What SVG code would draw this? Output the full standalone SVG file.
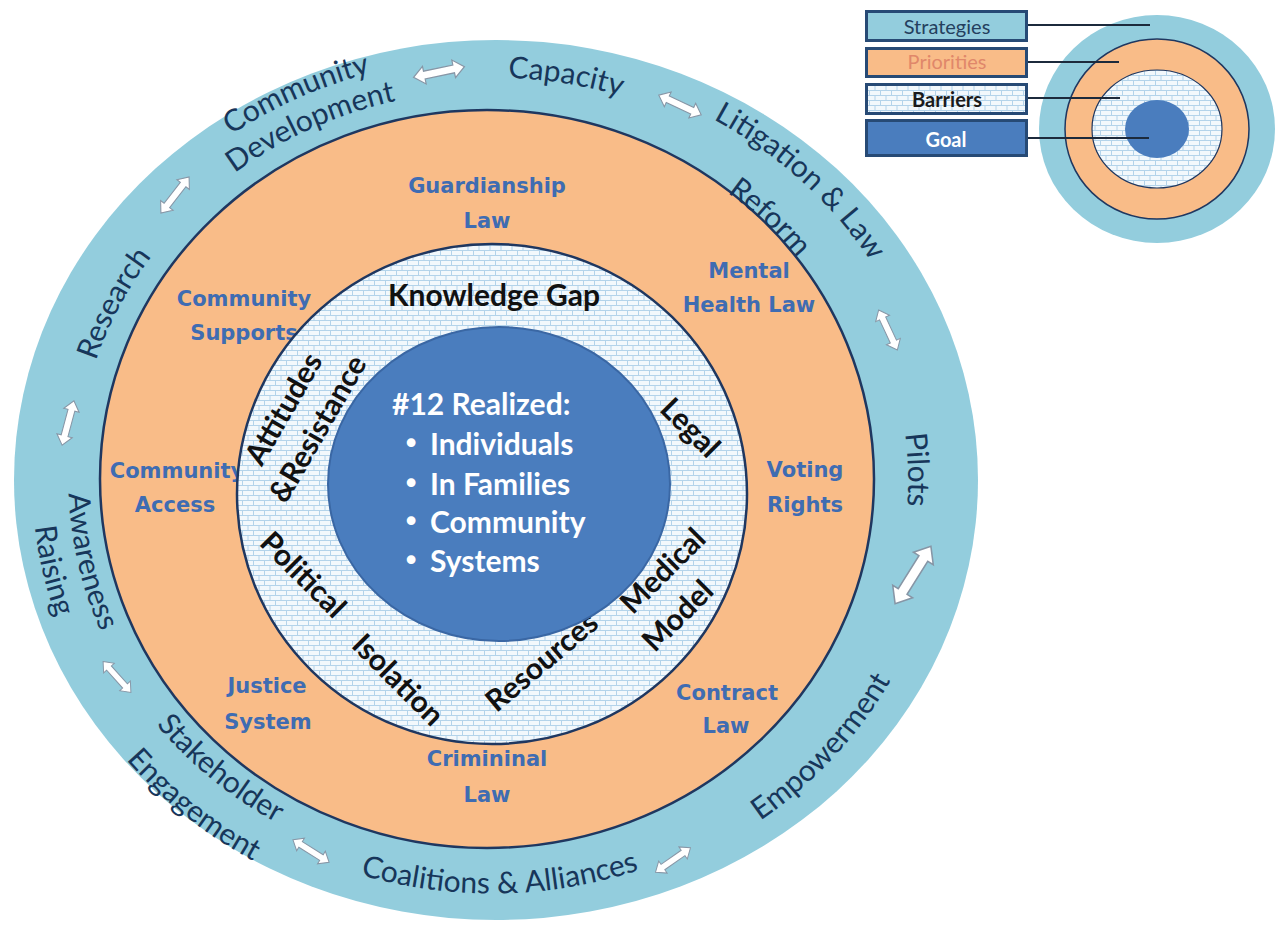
<svg xmlns="http://www.w3.org/2000/svg" xmlns:xlink="http://www.w3.org/1999/xlink" width="1281" height="926" viewBox="0 0 1281 926">
<defs>
<pattern id="brick" width="11" height="10" patternUnits="userSpaceOnUse">
<rect width="11" height="10" fill="#f2f8fc"/>
<path d="M0,0.5H11M0,5.5H11M0.5,0.5V5.5M6,5.5V10.5" stroke="#b3d3ea" stroke-width="1" fill="none"/>
</pattern>
<path id="arr" d="M-26,0 L-15,-9 L-15,-4 L15,-4 L15,-9 L26,0 L15,9 L15,4 L-15,4 L-15,9 Z"/>
<path id="pCap" d="M61,480 A431,402.2 0 1 1 923,480 A431,402.2 0 1 1 61,480"/>
<path id="pMid" d="M75.8,480 A416.2,388.4 0 1 1 908.2,480 A416.2,388.4 0 1 1 75.8,480"/>
<path id="pCom" d="M39.5,480 A452.5,422.3 0 1 1 944.5,480 A452.5,422.3 0 1 1 39.5,480"/>
<path id="pDev" d="M74.5,480 A417.5,389.6 0 1 1 909.5,480 A417.5,389.6 0 1 1 74.5,480"/>
<path id="pLit" d="M46.7,480 A445.3,415.5 0 1 1 937.3,480 A445.3,415.5 0 1 1 46.7,480"/>
<path id="pRef" d="M104.5,480 A387.5,361.6 0 1 1 879.5,480 A387.5,361.6 0 1 1 104.5,480"/>
<path id="pCoa" d="M492,66.5 A443.1,413.5 0 0 0 492,893.5 A443.1,413.5 0 0 0 492,66.5"/>
<path id="pEmp" d="M492,57.2 A453.1,422.8 0 0 0 492,902.8 A453.1,422.8 0 0 0 492,57.2"/>
<path id="pSta" d="M492,82.5 A426,397.5 0 0 0 492,877.5 A426,397.5 0 0 0 492,82.5"/>
<path id="pEng" d="M492,38.6 A473,441.4 0 0 0 492,921.4 A473,441.4 0 0 0 492,38.6"/>
<path id="pAwa" d="M492,84.7 A423.6,395.3 0 0 0 492,875.3 A423.6,395.3 0 0 0 492,84.7"/>
<path id="pRai" d="M492,50.7 A460,429.3 0 0 0 492,909.3 A460,429.3 0 0 0 492,50.7"/>
</defs>
<style>
.outer{font-family:Lato,"Liberation Sans",sans-serif;font-size:30px;fill:#17365a;text-anchor:middle}
.prio{font-family:"DejaVu Sans",Verdana,sans-serif;font-weight:bold;font-size:21px;fill:#3f6cb2;text-anchor:middle}
.bar{font-family:Lato,"Liberation Sans",sans-serif;font-weight:bold;font-size:30px;fill:#111;text-anchor:middle}
.goal{font-family:Lato,"Liberation Sans",sans-serif;font-weight:bold;font-size:30px;fill:#fff}
.bul{font-family:"DejaVu Sans",sans-serif;font-size:30px;fill:#fff;text-anchor:middle}
.arrow{fill:#fff;stroke:#8796a6;stroke-width:1.2}
.leg{font-family:Lato,"Liberation Sans",sans-serif;font-size:20px;text-anchor:middle}
.legbox{stroke:#274a75;stroke-width:3}
.legline{stroke:#1c2a3c;stroke-width:2}
</style>
<rect width="1281" height="926" fill="#fff"/>

<g id="strategies-ring">
<ellipse cx="496" cy="480" rx="482" ry="440" fill="#93cddd"/>
</g>
<g id="priorities-ring">
<ellipse cx="487" cy="479" rx="387" ry="369" fill="#f9bc88" stroke="#1f3760" stroke-width="2.5"/>
</g>

<g id="strategy-labels">
<g id="s-community-development">
<text class="outer"><textPath xlink:href="#pCom" href="#pCom" startOffset="17.75%">Community</textPath></text>
<text class="outer"><textPath xlink:href="#pDev" href="#pDev" startOffset="17.67%">Development</textPath></text>
</g>
<g id="s-capacity"><text class="outer"><textPath xlink:href="#pCap" href="#pCap" startOffset="27.8%">Capacity</textPath></text></g>
<g id="s-litigation">
<text class="outer"><textPath xlink:href="#pLit" href="#pLit" startOffset="37.47%">Litigation &amp; Law</textPath></text>
<text class="outer"><textPath xlink:href="#pRef" href="#pRef" startOffset="37.69%">Reform</textPath></text>
</g>
<g id="s-pilots"><text class="outer"><textPath xlink:href="#pMid" href="#pMid" startOffset="49.6%">Pilots</textPath></text></g>
<g id="s-research"><text class="outer"><textPath xlink:href="#pMid" href="#pMid" startOffset="7.15%">Research</textPath></text></g>
<g id="s-empowerment"><text class="outer"><textPath xlink:href="#pEmp" href="#pEmp" startOffset="63.86%">Empowerment</textPath></text></g>
<g id="s-coalitions"><text class="outer"><textPath xlink:href="#pCoa" href="#pCoa" startOffset="50.3%">Coalitions &amp; Alliances</textPath></text></g>
<g id="s-stakeholder">
<text class="outer"><textPath xlink:href="#pSta" href="#pSta" startOffset="38.3%">Stakeholder</textPath></text>
<text class="outer"><textPath xlink:href="#pEng" href="#pEng" startOffset="38.5%">Engagement</textPath></text>
</g>
<g id="s-awareness">
<text class="outer"><textPath xlink:href="#pAwa" href="#pAwa" startOffset="28.3%">Awareness</textPath></text>
<text class="outer"><textPath xlink:href="#pRai" href="#pRai" startOffset="28.35%">Raising</textPath></text>
</g>
</g>

<g id="connectors">
<use xlink:href="#arr" href="#arr" class="arrow" transform="translate(439,72) rotate(-12)"/>
<use xlink:href="#arr" href="#arr" class="arrow" transform="translate(680,105) rotate(25) scale(0.9)"/>
<use xlink:href="#arr" href="#arr" class="arrow" transform="translate(888,330) rotate(65) scale(0.85)"/>
<use xlink:href="#arr" href="#arr" class="arrow" transform="translate(913,575) rotate(-58) scale(1.3)"/>
<use xlink:href="#arr" href="#arr" class="arrow" transform="translate(673,860) rotate(-35) scale(0.82)"/>
<use xlink:href="#arr" href="#arr" class="arrow" transform="translate(311,851) rotate(32) scale(0.82)"/>
<use xlink:href="#arr" href="#arr" class="arrow" transform="translate(117,677) rotate(48) scale(0.8)"/>
<use xlink:href="#arr" href="#arr" class="arrow" transform="translate(68,423) rotate(-75) scale(0.88)"/>
<use xlink:href="#arr" href="#arr" class="arrow" transform="translate(175,195) rotate(-52) scale(0.88)"/>
</g>

<g id="priority-labels">
<g id="p-guardianship"><text class="prio" x="487" y="193">Guardianship</text><text class="prio" x="487" y="228">Law</text></g>
<g id="p-mental"><text class="prio" x="749" y="278">Mental</text><text class="prio" x="749" y="312">Health Law</text></g>
<g id="p-supports"><text class="prio" x="244" y="306">Community</text><text class="prio" x="244" y="340">Supports</text></g>
<g id="p-access"><text class="prio" x="177" y="478">Community</text><text class="prio" x="175" y="512">Access</text></g>
<g id="p-voting"><text class="prio" x="805" y="477">Voting</text><text class="prio" x="805" y="512">Rights</text></g>
<g id="p-justice"><text class="prio" x="267" y="693">Justice</text><text class="prio" x="268" y="729">System</text></g>
<g id="p-criminal"><text class="prio" x="487" y="766">Crimininal</text><text class="prio" x="487" y="802">Law</text></g>
<g id="p-contract"><text class="prio" x="727" y="700">Contract</text><text class="prio" x="726" y="733">Law</text></g>
</g>

<g id="barriers-ring">
<ellipse cx="492" cy="494" rx="255" ry="250" fill="url(#brick)" stroke="#1f3760" stroke-width="2.5"/>
</g>

<g id="barrier-labels">
<g id="b-knowledge"><text class="bar" x="494" y="306">Knowledge Gap</text></g>
<g id="b-attitudes">
<text class="bar" transform="translate(284,409) rotate(-60)" y="10">Attitudes</text>
<text class="bar" transform="translate(318,429) rotate(-60)" y="10">&amp;Resistance</text>
</g>
<g id="b-legal"><text class="bar" transform="translate(690,428) rotate(45)" y="10">Legal</text></g>
<g id="b-political"><text class="bar" transform="translate(303,575) rotate(45)" y="10">Political</text></g>
<g id="b-isolation"><text class="bar" transform="translate(398,680) rotate(45)" y="10">Isolation</text></g>
<g id="b-resources"><text class="bar" transform="translate(542,662) rotate(-40)" y="10">Resources</text></g>
<g id="b-medical">
<text class="bar" transform="translate(663,571) rotate(-45)" y="10">Medical</text>
<text class="bar" transform="translate(678,616) rotate(-45)" y="10">Model</text>
</g>
</g>

<g id="goal">
<ellipse cx="499" cy="484" rx="171" ry="157" fill="#4a7dbe" stroke="#3a67a4" stroke-width="2"/>
<text class="goal" x="392" y="415">#12 Realized:</text>
<text class="bul" x="411" y="454">•</text><text class="goal" x="430" y="455">Individuals</text>
<text class="bul" x="411" y="494">•</text><text class="goal" x="430" y="495">In Families</text>
<text class="bul" x="411" y="532">•</text><text class="goal" x="430" y="533">Community</text>
<text class="bul" x="411" y="571">•</text><text class="goal" x="430" y="572">Systems</text>
</g>

<g id="legend">
<ellipse cx="1157" cy="129" rx="118" ry="114" fill="#93cddd"/>
<ellipse cx="1157" cy="129" rx="92" ry="90" fill="#f9bc88" stroke="#1f3760" stroke-width="1.5"/>
<ellipse cx="1157" cy="129" rx="65" ry="59" fill="url(#brick)" stroke="#1f3760" stroke-width="1.2"/>
<ellipse cx="1157" cy="129" rx="32" ry="29" fill="#4a7dbe"/>
<line class="legline" x1="1027" y1="25" x2="1150" y2="25" stroke-width="1.2"/>
<line class="legline" x1="1027" y1="62" x2="1119" y2="62"/>
<line class="legline" x1="1027" y1="98" x2="1120" y2="98"/>
<line class="legline" x1="1027" y1="138" x2="1149" y2="138"/>
<g id="legend-strategies"><rect class="legbox" x="866.5" y="11.5" width="160" height="29" fill="#93cddd"/><text class="leg" x="947" y="34" fill="#24405e">Strategies</text></g>
<g id="legend-priorities"><rect class="legbox" x="866.5" y="48.5" width="160" height="28" fill="#f9bc88"/><text class="leg" x="947" y="69" fill="#e0876a">Priorities</text></g>
<g id="legend-barriers"><rect class="legbox" x="866.5" y="84.5" width="160" height="29" fill="url(#brick)"/><text class="leg" x="947" y="107" fill="#1a1a1a" font-weight="bold" font-size="18">Barriers</text></g>
<g id="legend-goal"><rect class="legbox" x="866.5" y="120.5" width="160" height="35" fill="#4a7dbe"/><text class="leg" x="946" y="147" fill="#fff" font-weight="bold" font-size="21">Goal</text></g>
</g>
</svg>
